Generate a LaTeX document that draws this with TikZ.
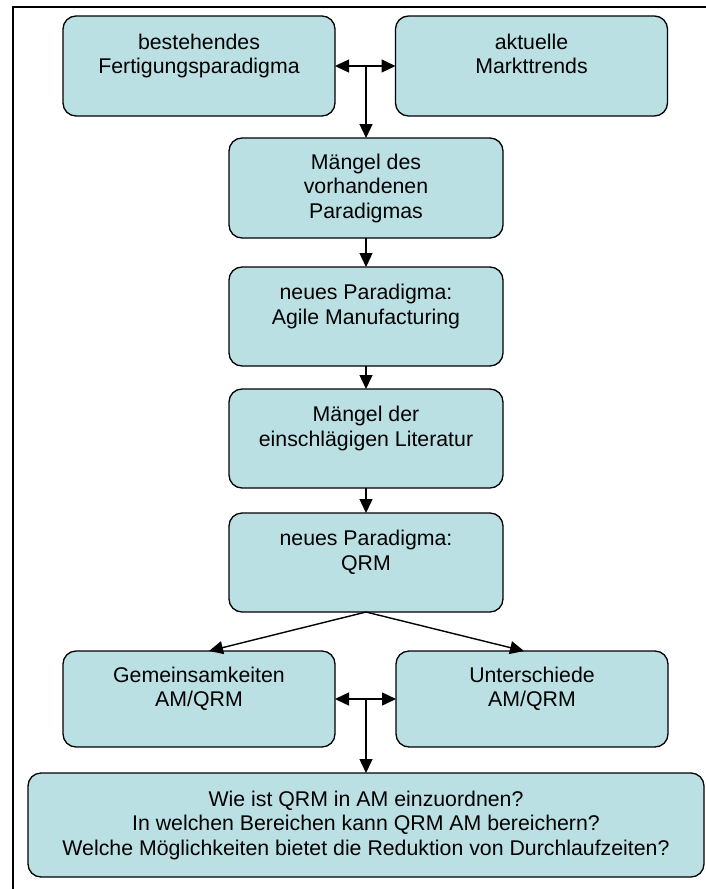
\documentclass[tikz,border=0pt]{standalone}
\usepackage{fontspec}
\setmainfont{Liberation Sans}
\usetikzlibrary{arrows.meta,calc}
\definecolor{boxfill}{RGB}{186,224,228}
\begin{document}
\begin{tikzpicture}[x=1pt,y=-1pt,
  box/.style={draw=black, line width=1.3pt, fill=boxfill, rounded corners=13pt,
    align=center, inner sep=0pt, outer sep=0pt,
    font=\fontsize{21.3}{24.5}\selectfont, minimum width=272pt, minimum height=100pt},
  link/.style={line width=1.4pt, -{Triangle[length=14pt,width=13pt]}},
  both/.style={line width=1.4pt, {Triangle[length=14pt,width=13pt]}-{Triangle[length=14pt,width=13pt]}},
  frame/.style={line width=2pt}]
\useasboundingbox (0,0) rectangle (706,889);
% open frame: left and top edges only
\draw[frame] (13,889) -- (13,7) -- (706,7);

\node[box] (alt)  at (199,66)   {bestehendes\\Fertigungsparadigma\\\mbox{}};
\node[box] (markt) at (531.5,66) {aktuelle\\Markttrends\\\mbox{}};
\node[box, minimum width=274pt] (maengel1) at (366,188)   {Mängel des\\vorhandenen\\Paradigmas};
\node[box, minimum width=274pt, minimum height=99pt] (agile) at (366,316.5) {neues Paradigma:\\Agile Manufacturing\\\mbox{}};
\node[box, minimum width=274pt, minimum height=99pt] (maengel2) at (366,438.5) {Mängel der\\einschlägigen Literatur\\\mbox{}};
\node[box, minimum width=274pt, minimum height=99pt] (qrm) at (366,562.5) {neues Paradigma:\\QRM\\\mbox{}};
\node[box, minimum height=96pt] (gemein) at (199,699) {Gemeinsamkeiten\\AM/QRM\\\mbox{}};
\node[box, minimum height=96pt] (unter) at (532,699) {Unterschiede\\AM/QRM\\\mbox{}};
\node[box, minimum width=676pt, minimum height=104pt] (fragen) at (366,825)
  {Wie ist QRM in AM einzuordnen?\\In welchen Bereichen kann QRM AM bereichern?\\Welche Möglichkeiten bietet die Reduktion von Durchlaufzeiten?};

% connectors
\draw[both] (alt.east) -- (markt.west);
\draw[link] (alt.east -| maengel1.north) -- (maengel1.north);
\draw[link] (maengel1.south) -- (agile.north);
\draw[link] (agile.south) -- (maengel2.north);
\draw[link] (maengel2.south) -- (qrm.north);
\draw[link] (qrm.south) -- ([xshift=10pt]gemein.north);
\draw[link] (qrm.south) -- ([xshift=-8pt]unter.north);
\draw[both] (gemein.east) -- (unter.west);
\draw[link] (gemein.east -| fragen.north) -- (fragen.north);
\end{tikzpicture}
\end{document}
